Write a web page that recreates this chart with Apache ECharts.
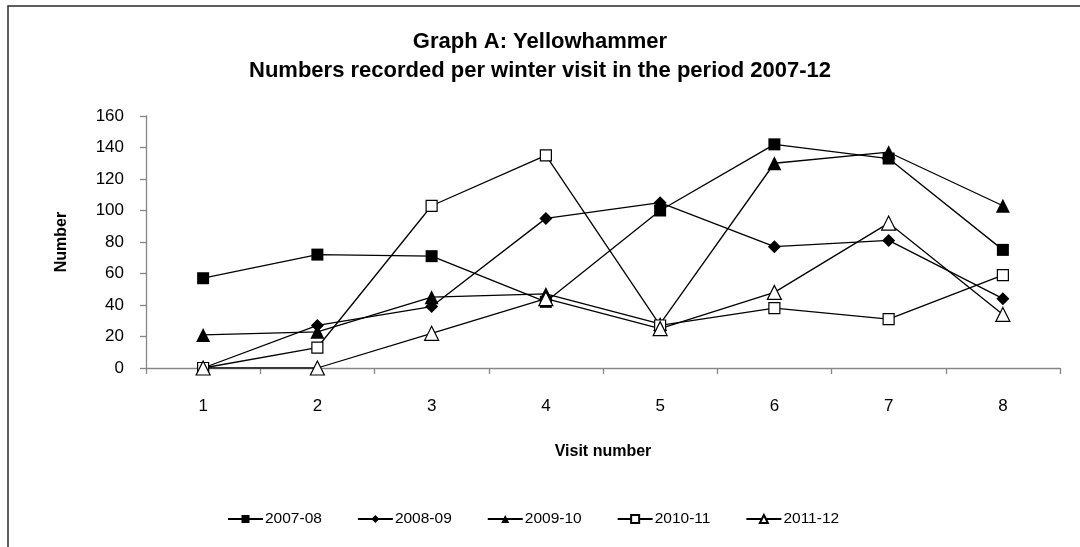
<!DOCTYPE html>
<html>
<head>
<meta charset="utf-8">
<script src="https://cdn.jsdelivr.net/npm/echarts@6/dist/echarts.min.js"></script>
<style>html,body{margin:0;padding:0;background:#fff;}#c{width:1080px;height:547px;}</style>
</head>
<body>
<div id="c"></div>
<script>
var categories = ['1','2','3','4','5','6','7','8'];
var seriesNames = ['2007-08','2008-09','2009-10','2010-11','2011-12'];
var s200708 = [57, 72, 71, 42, 100, 142, 133, 75];
var s200809 = [0, 27, 39, 95, 105, 77, 81, 44];
var s200910 = [21, 23, 45, 47, 28, 130, 137, 103];
var s201011 = [0, 13, 103, 135, 27, 38, 31, 59];
var s201112 = [0, 0, 22, 44, 25, 48, 92, 34];
var yTicks = [0, 20, 40, 60, 80, 100, 120, 140, 160];
var titleLines = ['Graph A: Yellowhammer', 'Numbers recorded per winter visit in the period 2007-12'];

var F = '"Liberation Sans", Arial, sans-serif';
function mk(name, data, symbol, size, filled) {
  return {
    name: name, type: 'line', data: data,
    symbol: symbol, symbolSize: size, showSymbol: true,
    lineStyle: { color: '#000', width: 1.3 },
    itemStyle: filled ? { color: '#000', borderColor: '#000', borderWidth: 0 }
                      : { color: '#fff', borderColor: '#000', borderWidth: 1.2 },
    emphasis: { disabled: true },
    animation: false, z: 3
  };
}
var titleStyle = { fontFamily: F, fontWeight: 'bold', fontSize: 22, lineHeight: 29, color: '#000' };
var chart = echarts.init(document.getElementById('c'), null, { renderer: 'canvas' });
chart.setOption({
  animation: false,
  backgroundColor: '#fff',
  graphic: [{
    type: 'rect', shape: { x: 8, y: 6, width: 1100, height: 600 },
    style: { fill: 'none', stroke: '#2a2a2a', lineWidth: 1.5 }, silent: true
  }],
  title: [
    { text: titleLines[0], left: 'center', top: 27, padding: 0, textStyle: titleStyle },
    { text: titleLines[1], left: 'center', top: 56, padding: 0, textStyle: titleStyle }
  ],
  grid: { left: 146, right: 20, top: 116, bottom: 179 },
  legend: {
    bottom: 15, left: 222,
    data: seriesNames,
    itemWidth: 35, itemHeight: 10, itemGap: 35,
    textStyle: { fontFamily: F, fontSize: 15.5, color: '#000', padding: [0, 0, 0, -3] }
  },
  xAxis: {
    type: 'category', data: categories, boundaryGap: true,
    name: 'Visit number', nameLocation: 'middle', nameGap: 76,
    nameTextStyle: { fontFamily: F, fontWeight: 'bold', fontSize: 16, color: '#000' },
    axisLine: { lineStyle: { color: '#868686', width: 1.3 } },
    axisTick: { show: true, length: 6, lineStyle: { color: '#868686', width: 1.3 } },
    axisLabel: { fontFamily: F, fontSize: 17, color: '#000', margin: 30 },
    splitLine: { show: false }
  },
  yAxis: {
    type: 'value', min: yTicks[0], max: yTicks[yTicks.length - 1], interval: 20,
    name: 'Number', nameLocation: 'middle', nameGap: 76, nameRotate: 90,
    nameTextStyle: { fontFamily: F, fontWeight: 'bold', fontSize: 16, color: '#000' },
    axisLine: { show: true, lineStyle: { color: '#868686', width: 1.3 } },
    axisTick: { show: true, length: 6, lineStyle: { color: '#868686', width: 1.3 } },
    axisLabel: { fontFamily: F, fontSize: 17, color: '#000', margin: 22 },
    splitLine: { show: false }
  },
  series: [
    mk(seriesNames[0], s200708, 'rect', 12, true),
    mk(seriesNames[1], s200809, 'diamond', 13, true),
    mk(seriesNames[2], s200910, 'triangle', 14, true),
    mk(seriesNames[3], s201011, 'rect', 11, false),
    mk(seriesNames[4], s201112, 'triangle', 14, false)
  ]
});
</script>
</body>
</html>
